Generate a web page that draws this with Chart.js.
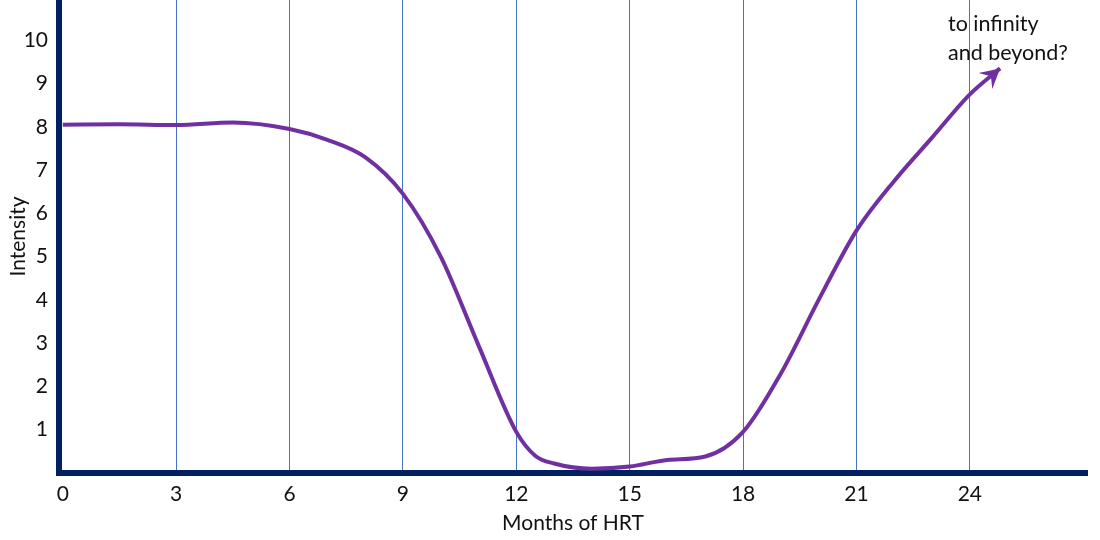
<!DOCTYPE html>
<html>
<head>
<meta charset="utf-8">
<script src="https://cdn.jsdelivr.net/npm/chart.js@4"></script>
<style>
  body { margin: 0; background: #fff; }
  #wrap { position: relative; width: 1100px; height: 540px; }
  #note {
    position: absolute; left: 948px; top: 9px;
    font-family: Lato, "Open Sans", sans-serif; font-size: 21.5px;
    line-height: 29px; color: #111;
  }
</style>
</head>
<body>
<div id="wrap">
  <canvas id="hrtChart"></canvas>
  <div id="note">to infinity<br>and beyond?</div>
</div>
<script>
// values
const months = [0, 1.5, 3, 4.5, 6, 7, 8, 9, 10, 11, 12, 12.5, 13, 14, 15, 16, 17, 18, 19, 20, 21, 22, 23, 24, 24.8];
const intensity = [8.05, 8.06, 8.04, 8.1, 7.95, 7.7, 7.3, 6.45, 5.0, 2.95, 0.95, 0.4, 0.22, 0.1, 0.15, 0.3, 0.38, 0.95, 2.3, 4.0, 5.6, 6.75, 7.75, 8.75, 9.35];
const xTicks = [0, 3, 6, 9, 12, 15, 18, 21, 24];
const yTicks = [1, 2, 3, 4, 5, 6, 7, 8, 9, 10];

const navy = '#002060';
const purple = '#7030A0';
const gridBlue = '#4472C4';
const font = { family: 'Lato, "Open Sans", sans-serif', size: 21 };

// arrow head at the end of the curve
const arrowHead = {
  id: 'arrowHead',
  afterDatasetsDraw(chart) {
    const pts = chart.getDatasetMeta(0).data;
    const tip = pts[pts.length - 1];
    const a = Math.atan2(tip.y - tip.cp1y, tip.x - tip.cp1x);
    const len = 22, spread = 0.5;
    const ctx = chart.ctx;
    ctx.save();
    ctx.fillStyle = purple;
    ctx.beginPath();
    ctx.moveTo(tip.x, tip.y);
    ctx.lineTo(tip.x - len * Math.cos(a - spread), tip.y - len * Math.sin(a - spread));
    ctx.lineTo(tip.x - len * 0.55 * Math.cos(a), tip.y - len * 0.55 * Math.sin(a));
    ctx.lineTo(tip.x - len * Math.cos(a + spread), tip.y - len * Math.sin(a + spread));
    ctx.closePath();
    ctx.fill();
    ctx.restore();
  }
};

new Chart(document.getElementById('hrtChart').getContext('2d'), {
  type: 'line',
  data: {
    datasets: [{
      data: months.map((m, i) => ({ x: m, y: intensity[i] })),
      borderColor: purple,
      borderWidth: 4,
      pointRadius: 0,
      fill: false,
      cubicInterpolationMode: 'monotone'
    }]
  },
  options: {
    responsive: true,
    maintainAspectRatio: false,
    animation: false,
    layout: { padding: { left: 2, right: 13, top: 0, bottom: 0 } },
    plugins: { legend: { display: false }, tooltip: { enabled: false } },
    scales: {
      x: {
        type: 'linear',
        min: -0.1,
        max: 27.1,
        afterBuildTicks: (scale) => { scale.ticks = xTicks.map(v => ({ value: v })); },
        afterFit: (scale) => { scale.height = 67; scale.paddingLeft = 0; scale.paddingRight = 0; },
        grid: {
          color: (c) => (c.tick && c.tick.value === 0) ? 'rgba(0,0,0,0)' : gridBlue,
          lineWidth: 1,
          drawTicks: false
        },
        border: { color: navy, width: 6 },
        ticks: { font: font, color: '#111', padding: 9, maxRotation: 0 },
        title: { display: true, text: 'Months of HRT', font: font, color: '#111' }
      },
      y: {
        min: 0,
        max: 10.93,
        afterBuildTicks: (scale) => { scale.ticks = yTicks.map(v => ({ value: v })); },
        afterFit: (scale) => { scale.width = 57; scale.paddingTop = 0; scale.paddingBottom = 0; },
        grid: { display: false, drawTicks: false },
        border: { color: navy, width: 6 },
        ticks: { font: font, color: '#111', padding: 11 },
        title: { display: true, text: 'Intensity', font: font, color: '#111' }
      }
    }
  },
  plugins: [arrowHead]
});
</script>
</body>
</html>
